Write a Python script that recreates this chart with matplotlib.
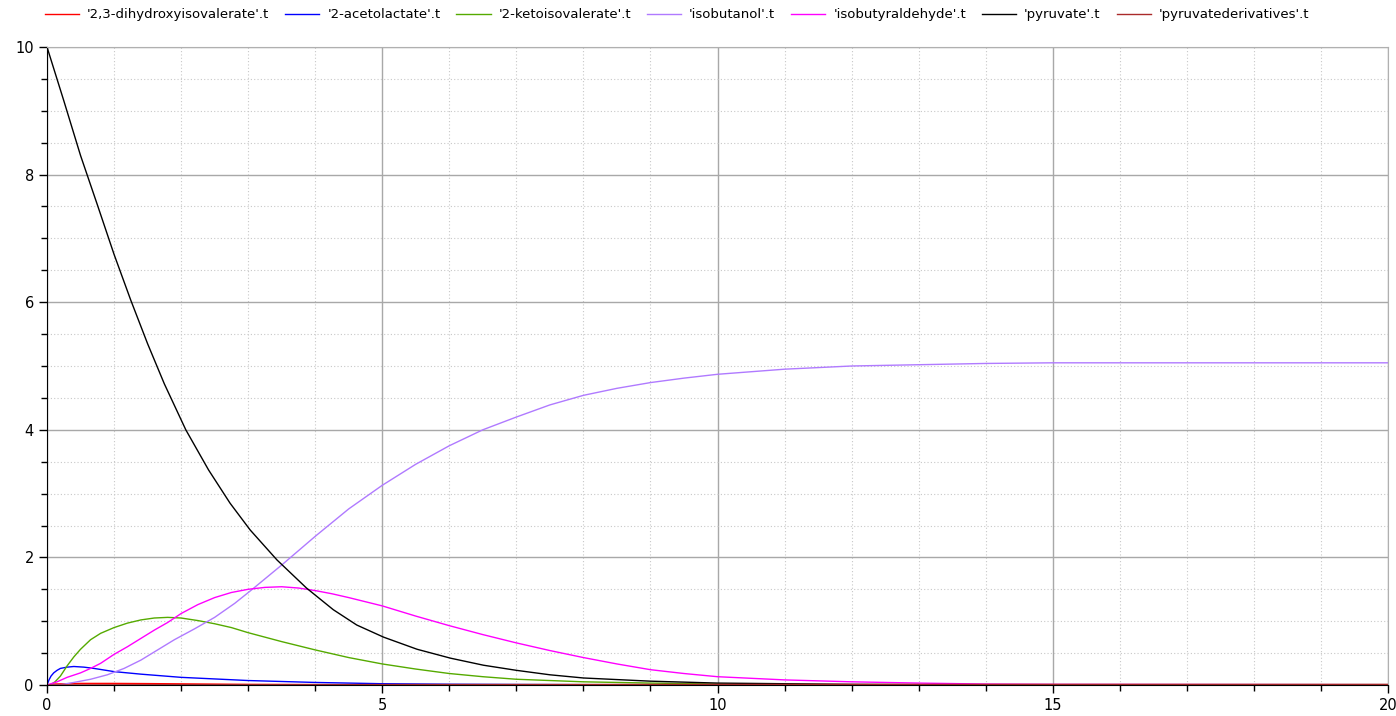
import numpy as np
import matplotlib
matplotlib.use("Agg")
import matplotlib.pyplot as plt
from matplotlib.ticker import MultipleLocator

# === data (time, value) ===
t_pyr = [0, 0.25, 0.5, 0.75, 1.0, 1.25, 1.5, 1.75, 2.07, 2.41, 2.73, 3.03, 3.43, 3.87, 4.27, 4.62, 5.02,
         5.52, 6.02, 6.51, 7.0, 7.5, 8, 9, 10, 11, 12, 14, 20]
pyruvate = [10, 9.16, 8.3, 7.53, 6.75, 6.03, 5.35, 4.72, 4.0, 3.37, 2.85, 2.43, 1.96, 1.52, 1.18, 0.94, 0.75,
            0.56, 0.42, 0.31, 0.23, 0.16, 0.11, 0.06, 0.03, 0.02, 0.01, 0.0, 0.0]

t_but = [0, 0.2, 0.4, 0.65, 0.9, 1.15, 1.4, 1.65, 1.9, 2.2, 2.5, 2.8, 3.05, 3.5, 4.0, 4.5, 5.0, 5.5, 6.0,
         6.5, 7.0, 7.5, 8.0, 8.5, 9.0, 9.5, 10, 11, 12, 13, 14, 15, 17, 20]
isobutanol = [0, 0.005, 0.04, 0.09, 0.16, 0.26, 0.39, 0.55, 0.71, 0.88, 1.06, 1.28, 1.49, 1.88, 2.33, 2.76,
              3.13, 3.46, 3.75, 4.0, 4.2, 4.39, 4.54, 4.65, 4.74, 4.81, 4.87, 4.95, 5.0, 5.02, 5.04, 5.05,
              5.05, 5.05]

t_ald = [0, 0.15, 0.3, 0.5, 0.65, 0.8, 1.0, 1.2, 1.4, 1.6, 1.8, 2.0, 2.25, 2.5, 2.75, 3.0, 3.25, 3.5, 3.75,
         4.0, 4.25, 4.5, 5.0, 5.5, 6.0, 6.5, 7, 7.5, 8, 8.5, 9, 9.5, 10, 11, 12, 13, 14, 15, 20]
isobutyraldehyde = [0, 0.05, 0.12, 0.19, 0.26, 0.34, 0.48, 0.60, 0.73, 0.86, 0.98, 1.12, 1.26, 1.37, 1.45,
                    1.50, 1.53, 1.54, 1.52, 1.48, 1.43, 1.37, 1.24, 1.08, 0.93, 0.79, 0.66, 0.54, 0.43,
                    0.33, 0.24, 0.18, 0.13, 0.08, 0.05, 0.03, 0.015, 0.01, 0.005]

t_kiv = [0, 0.05, 0.12, 0.2, 0.3, 0.4, 0.5, 0.65, 0.8, 1.0, 1.2, 1.4, 1.6, 1.8, 2.0, 2.25, 2.5, 2.75, 3.0,
         3.5, 4.0, 4.5, 5.0, 5.5, 6.0, 6.5, 7, 8, 9, 10, 11, 12, 20]
ketoisovalerate = [0, 0.0, 0.05, 0.14, 0.30, 0.44, 0.56, 0.71, 0.81, 0.90, 0.97, 1.02, 1.05, 1.06, 1.05,
                   1.01, 0.96, 0.90, 0.82, 0.68, 0.55, 0.43, 0.33, 0.25, 0.18, 0.13, 0.09, 0.05, 0.03,
                   0.015, 0.008, 0.004, 0.0]

t_ace = [0, 0.03, 0.06, 0.1, 0.15, 0.2, 0.3, 0.4, 0.55, 0.7, 1.0, 1.4, 2.0, 2.6, 3.0, 3.5, 4.0, 5.0, 6.0,
         7, 8, 10, 20]
acetolactate = [0, 0.08, 0.14, 0.19, 0.23, 0.26, 0.28, 0.29, 0.28, 0.26, 0.21, 0.17, 0.12, 0.09, 0.07,
                0.055, 0.04, 0.02, 0.012, 0.008, 0.005, 0.002, 0.0]

t_dhiv = [0, 0.1, 0.5, 1, 1.5, 2, 2.5, 3, 4, 5, 20]
dihydroxyisovalerate = [0, 0.015, 0.025, 0.025, 0.022, 0.018, 0.014, 0.01, 0.006, 0.003, 0.0]

t_der = [0, 2, 5, 10, 15, 20]
pyruvatederivatives = [0, 0.004, 0.007, 0.009, 0.01, 0.01]

series = [
    ("'2,3-dihydroxyisovalerate'.t", t_dhiv, dihydroxyisovalerate, "#ff0000"),
    ("'2-acetolactate'.t", t_ace, acetolactate, "#0000ff"),
    ("'2-ketoisovalerate'.t", t_kiv, ketoisovalerate, "#55aa00"),
    ("'isobutanol'.t", t_but, isobutanol, "#b07aff"),
    ("'isobutyraldehyde'.t", t_ald, isobutyraldehyde, "#ff00ff"),
    ("'pyruvate'.t", t_pyr, pyruvate, "#000000"),
    ("'pyruvatederivatives'.t", t_der, pyruvatederivatives, "#aa2a2a"),
]

fig = plt.figure(figsize=(13.96, 7.16), dpi=100)
ax = fig.add_axes([47 / 1396, 1 - 685 / 716, (1388 - 47) / 1396, (685 - 47) / 716])

for label, t, y, c in series:
    ax.plot(t, y, color=c, lw=1.0, label=label)

ax.set_xlim(0, 20)
ax.set_ylim(0, 10)
ax.xaxis.set_major_locator(MultipleLocator(5))
ax.xaxis.set_minor_locator(MultipleLocator(1))
ax.yaxis.set_major_locator(MultipleLocator(2))
ax.yaxis.set_minor_locator(MultipleLocator(0.5))

ax.grid(which="major", color="#a8a8a8", lw=1.0, ls="-")
ax.grid(which="minor", color="#c8c8c8", lw=0.8, ls=(0, (1, 2)))
ax.set_axisbelow(True)

ax.tick_params(which="major", direction="out", length=6, width=1, labelsize=10.5, colors="black")
ax.tick_params(which="minor", direction="out", length=4, width=1)
ax.spines["left"].set_color("black")
ax.spines["bottom"].set_color("black")
ax.spines["top"].set_color("#b0b0b0")
ax.spines["right"].set_color("#b0b0b0")

fig.legend(loc="upper center", bbox_to_anchor=(0.485, 1.005), ncol=7, frameon=False,
           fontsize=9.5, handlelength=2.6, columnspacing=1.2, handletextpad=0.6)

fig.savefig("out.png", dpi=100)
